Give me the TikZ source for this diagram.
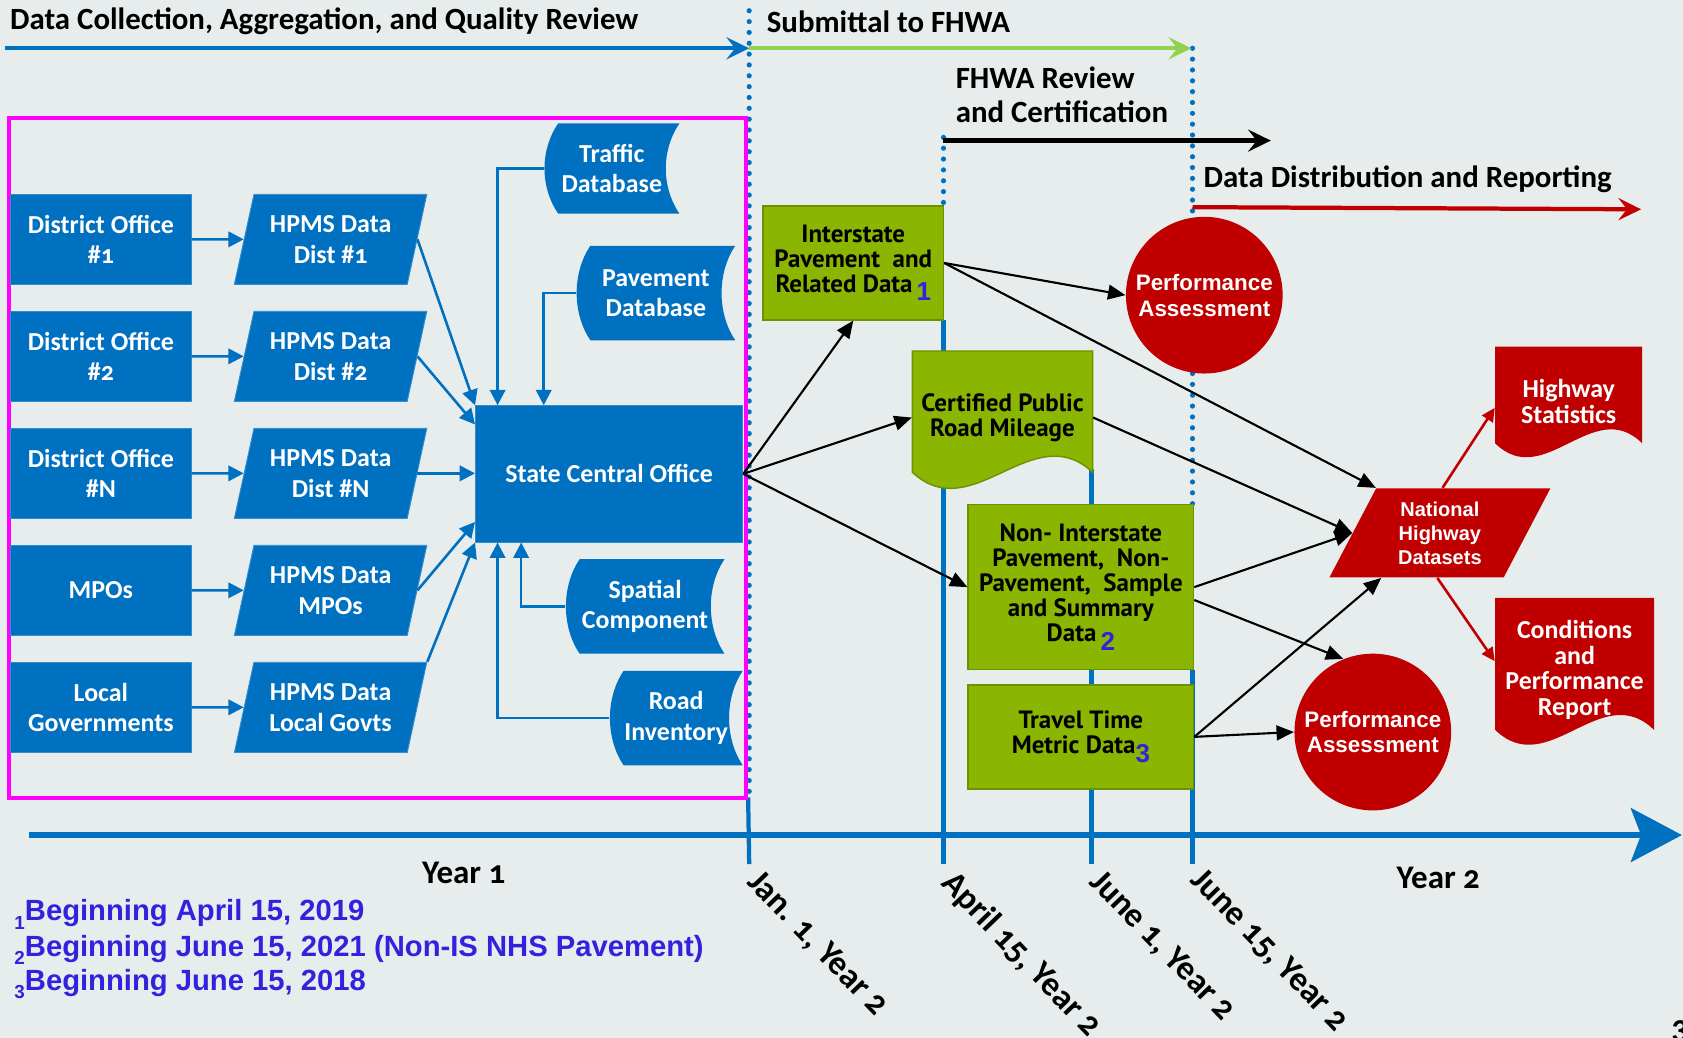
\documentclass[tikz,border=0pt]{standalone}
\usepackage{fontspec}
\setmainfont{Carlito}[Numbers=OldStyle]
\newfontfamily\greenfont{PT Sans}
\newfontfamily\arialfont{Liberation Sans}
\usetikzlibrary{arrows.meta,calc,shapes.geometric}

\definecolor{pagegray}{HTML}{E7EDED}
\definecolor{hpmsblue}{HTML}{0070C0}
\definecolor{phasegreen}{HTML}{92D050}
\definecolor{fhwagreen}{HTML}{8AB500}
\definecolor{fhwared}{HTML}{C00000}
\definecolor{framepink}{HTML}{FF00FF}
\definecolor{fnblue}{HTML}{3322DD}

% one pixel of the sketch
\newcommand{\pxs}[1]{#1*0.016cm}
% blue sub numbers in the green boxes and notes
\newcommand{\subnum}[1]{\raisebox{-3.5pt}{\color{fnblue}\arialfont\bfseries\fontsize{11}{11}\selectfont #1}}
\newcommand{\fnsub}[1]{\raisebox{-3.5pt}{\fontsize{8}{8}\selectfont #1}}

% stored data: left, top, right, bottom
\newcommand{\storeddata}[4]{%
  \fill[hpmsblue] (#1+13,#2) -- (#3,#2)
    .. controls (#3-17,#2+25) and (#3-17,#4-25) .. (#3,#4)
    -- (#1+13,#4) .. controls (#1-4,#4-25) and (#1-4,#2+25) .. cycle;}
% document: style, left, top, right, base, wave
\newcommand{\docshape}[6]{%
  \path[#1] (#2,#3) -- (#4,#3) -- (#4,#5)
    .. controls ({#4-(#4-#2)/3},#5-#6) and ({#2+(#4-#2)/3},#5+#6) .. (#2,#5) -- cycle;}

\begin{document}
\begin{tikzpicture}[x=0.016cm, y=-0.016cm,
    office/.style={fill=hpmsblue, draw=hpmsblue!80!white, text=white, align=center, inner sep=0pt,
      font=\bfseries\fontsize{11}{13}\selectfont},
    hpms/.style={office, trapezium, trapezium left angle=72, trapezium right angle=108,
      trapezium stretches=true, minimum width=\pxs{180}, minimum height=\pxs{84}},
    dbtext/.style={text=white, align=center, inner sep=0pt, font=\bfseries\fontsize{11}{13}\selectfont},
    greentext/.style={align=center, inner sep=0pt, font=\greenfont\bfseries\fontsize{10.6}{10.6}\selectfont},
    greenbox/.style={greentext, fill=fhwagreen, draw=fhwagreen!80!black, line width=0.6pt},
    perf/.style={circle, fill=fhwared, text=white, align=center, inner sep=0pt, minimum size=\pxs{146},
      font=\arialfont\bfseries\fontsize{9.5}{11}\selectfont},
    nhdbox/.style={trapezium, trapezium left angle=64, trapezium right angle=116, trapezium stretches=true,
      fill=fhwared, text=white, align=center, inner sep=0pt, minimum width=\pxs{207}, minimum height=\pxs{83},
      font=\arialfont\bfseries\fontsize{8.5}{10.2}\selectfont},
    reddoc/.style={text=white, align=center, inner sep=0pt, font=\bfseries\fontsize{11}{10.8}\selectfont},
    heading/.style={anchor=west, align=left, inner sep=0pt, font=\bfseries\fontsize{13.1}{14.5}\selectfont},
    yearlabel/.style={inner sep=0pt, font=\bfseries\fontsize{14}{16}\selectfont},
    datelabel/.style={yearlabel, font=\bfseries\fontsize{14.5}{16}\selectfont, rotate=-46, anchor=north west},
    footnote/.style={anchor=west, inner sep=0pt, text=fnblue, font=\arialfont\bfseries\fontsize{12.4}{14}\selectfont},
    bluearrow/.style={draw=hpmsblue, line width=1.1pt, -{Triangle[length=2.3mm,width=2.3mm]}},
    blackarrow/.style={draw=black, line width=0.9pt, -{Triangle[length=2.6mm,width=2.2mm]}},
    redarrow/.style={draw=fhwared, line width=1.1pt, -{Triangle[length=2mm,width=1.9mm]}},
    phase/.style={line width=1.8pt, -{Stealth[length=3.4mm,width=3.3mm,inset=1.3mm]}},
    dotline/.style={hpmsblue, line width=2.2pt, line cap=round, dash pattern=on 0pt off 4.6pt},
    dayline/.style={hpmsblue, line width=1.8pt}]
  \useasboundingbox (0,0) rectangle (1568,967);
  \fill[pagegray] (0,0) rectangle (1568,967);

  % milestone lines
  \draw[dotline] (698,10) -- (698,743);
  \draw[dayline] (697,743) -- (698,805);
  \draw[dotline] (879,128) -- (879,192);
  \draw[dayline] (879,298) -- (879,805);
  \draw[dayline] (1017,437) -- (1017,805);
  \draw[dotline] (1111,45) -- (1111,470);
  \draw[dayline] (1111,624) -- (1111,805);

  \draw[framepink, line width=1.7pt] (8,110) rectangle (695,743);

  % phases
  \coordinate (ph0) at (5,45);
  \coordinate (ph1) at (698,45);
  \coordinate (ph2) at (1110,45);
  \coordinate (rv0) at (879,131);
  \coordinate (rv1) at (1184,131);
  \coordinate (dd0) at (1111,193);
  \coordinate (dd1) at (1529,195);
  \draw[phase, hpmsblue] (ph0) -- (ph1);
  \draw[phase, phasegreen] (ph1) -- (ph2);
  \draw[phase, black, line width=2.2pt] (rv0) -- (rv1);
  \draw[phase, fhwared] (dd0) -- (dd1);
  \node[heading] (h-collect) at (9,20) {Data Collection, Aggregation, and Quality Review};
  \node[heading] (h-submit) at (714,20) {Submittal to FHWA};
  \node[heading] (h-review) at (890,88) {FHWA Review\\and Certification};
  \node[heading] (h-report) at (1121,167) {Data Distribution and Reporting};

  % time axis
  \coordinate (ax0) at (27,778);
  \coordinate (ax1) at (1567,778);
  \draw[hpmsblue, line width=2.7pt, -{Stealth[length=7.6mm,width=8mm,inset=1.5mm]}] (ax0) -- (ax1);

  % state side
  \foreach \y/\officetxt/\datatxt [count=\i] in {223/{District Office\\\#1}/{Dist \#1},
      332/{District Office\\\#2}/{Dist \#2}, 441/{District Office\\\#N}/{Dist \#N},
      550/MPOs/MPOs, 659/{Local\\Governments}/{Local Govts}}
    {
      \node[office, minimum width=\pxs{168}, minimum height=\pxs{84}] (office\i) at (94,\y) {\officetxt};
      \node[hpms] (hpms\i) at (308,\y) {HPMS Data\\\datatxt};
      \draw[bluearrow] (office\i) -- (hpms\i);
    }
  \node[office, minimum width=\pxs{249}, minimum height=\pxs{127}] (sco) at (567.5,441.5) {State Central Office};
  \draw[bluearrow] (hpms1.east) -- (sco.north west);
  \draw[bluearrow] (hpms2.east) -- ($(sco.north west)!0.14!(sco.south west)$);
  \draw[bluearrow] (hpms3.east) -- (hpms3.east -| sco.west);
  \draw[bluearrow] (hpms4.east) -- ($(sco.north west)!0.85!(sco.south west)$);
  \draw[bluearrow] (hpms5.top right corner) -- (sco.south west);

  \storeddata{507}{115}{633}{199}
  \node[dbtext, minimum width=\pxs{126}, minimum height=\pxs{84}] (traffic) at (570,157) {Traffic\\Database};
  \storeddata{537}{229}{685}{317}
  \node[dbtext, minimum width=\pxs{148}, minimum height=\pxs{88}] (pavement) at (611,273) {Pavement\\Database};
  \storeddata{527}{521}{675}{609}
  \node[dbtext, minimum width=\pxs{148}, minimum height=\pxs{88}] (spatial) at (601,565) {Spatial\\Component};
  \storeddata{568}{625}{692}{713}
  \node[dbtext, minimum width=\pxs{124}, minimum height=\pxs{88}] (roadinv) at (630,669) {Road\\Inventory};
  \draw[bluearrow] (traffic.west) -| ($(sco.north west)+(21,0)$);
  \draw[bluearrow] (pavement.west) -| ($(sco.north west)+(64,0)$);
  \draw[bluearrow] (spatial.west) -| ($(sco.south west)+(43,0)$);
  \draw[bluearrow] (roadinv.west) -| ($(sco.south west)+(21,0)$);

  % submitted data
  \node[greenbox, minimum width=\pxs{168}, minimum height=\pxs{106}] (inter) at (795,245)
    {Interstate\\Pavement~ and\\Related Data\,\subnum{1}};
  \docshape{fill=fhwagreen, draw=fhwagreen!80!black, line width=0.6pt}{850}{327}{1018}{440}{52}
  \node[greentext, minimum width=\pxs{168}, minimum height=\pxs{113}] (cert) at (934,389) {Certified Public\\Road Mileage};
  \node[greenbox, minimum width=\pxs{210}, minimum height=\pxs{154}] (nonis) at (1007,547)
    {Non- Interstate\\Pavement,~ Non-\\Pavement,~ Sample\\and Summary\\Data\,\subnum{2}};
  \node[greenbox, minimum width=\pxs{210}, minimum height=\pxs{97}] (travel) at (1007,686.5)
    {Travel Time\\Metric Data\subnum{3}};

  % FHWA products
  \node[perf] (perf1) at (1122,275) {Performance\\Assessment};
  \node[perf] (perf2) at (1279,682) {Performance\\Assessment};
  \node[nhdbox] (nhd) at (1341.5,496.5) {National\\Highway\\Datasets};
  \docshape{fill=fhwared}{1393}{323}{1530}{413}{45}
  \node[reddoc, minimum width=\pxs{137}, minimum height=\pxs{90}] (hwstats) at (1461.5,374) {Highway\\Statistics};
  \docshape{fill=fhwared}{1393}{557}{1541}{680}{48}
  \node[reddoc, minimum width=\pxs{148}, minimum height=\pxs{123}] (cpreport) at (1467,624) {Conditions\\and\\Performance\\Report};

  \draw[blackarrow] (sco.east) -- (inter.south);
  \draw[blackarrow] (sco.east) -- (cert.west);
  \draw[blackarrow] (sco.east) -- (nonis.west);
  \draw[blackarrow] (inter.east) -- (perf1.west);
  \draw[blackarrow] (inter.east) -- (nhd.top left corner);
  \draw[blackarrow] (cert.east) -- (nhd.west);
  \draw[blackarrow] (nonis.east) -- (nhd.west);
  \draw[blackarrow] ($(nonis.east)+(0,12)$) -- (perf2.112);
  \draw[blackarrow] (travel.east) -- ($(nhd.bottom left corner)!0.3!(nhd.bottom right corner)$);
  \draw[blackarrow] (travel.east) -- (perf2.west);
  \draw[redarrow] ($(nhd.top left corner)!0.38!(nhd.top right corner)$) -- ($(hwstats.west)+(0,6)$);
  \draw[redarrow] ($(nhd.bottom left corner)!0.62!(nhd.bottom right corner)$) -- ($(cpreport.west)+(0,-8)$);

  % axis labels
  \node[yearlabel] (year1) at (432,813) {Year 1};
  \node[yearlabel] (year2) at (1340,818) {Year 2};
  \node[datelabel] (d-jan) at (710,808) {Jan. 1, Year 2};
  \node[datelabel] (d-apr) at (892,808) {April 15, Year 2};
  \node[datelabel] (d-jun1) at (1029,808) {June 1, Year 2};
  \node[datelabel] (d-jun15) at (1123,806) {June 15, Year 2};
  \node[yearlabel, anchor=north west] (pagenum) at (1557,950) {3};

  \node[footnote] (fn1) at (13,852) {\fnsub{1}Beginning April 15, 2019};
  \node[footnote] (fn2) at (13,885) {\fnsub{2}Beginning June 15, 2021 (Non-IS NHS Pavement)};
  \node[footnote] (fn3) at (13,917) {\fnsub{3}Beginning June 15, 2018};
\end{tikzpicture}
\end{document}
